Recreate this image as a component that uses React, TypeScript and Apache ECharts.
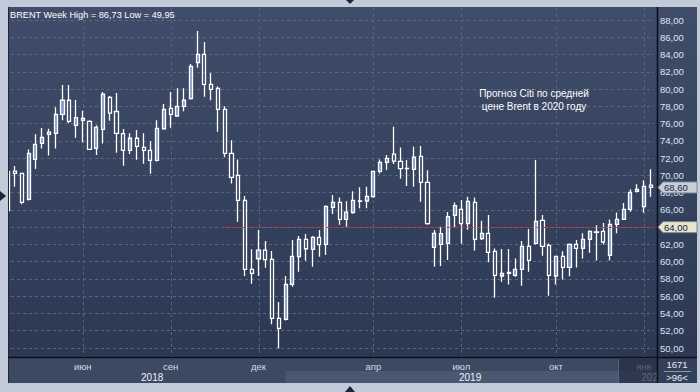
import React, { useEffect, useRef } from "react";
import * as echarts from "echarts";

// Weekly Brent candles (week start, Monday)
const startDate = "2018-03-19";
const weekCount = 96;

const opens = [
  70.43, 70.5, 70.24, 67.22, 71.85, 73.7, 74.75, 74.87, 77.07, 78.7,
  75.8, 76.37, 76.26, 73.13, 75.33, 79.04, 77.4, 74.83, 72.9, 74.3,
  73.25, 72.9, 71.74, 75.4, 77.76, 76.88, 78.0, 78.88, 83.06, 84.02,
  80.55, 80.08, 77.65, 72.55, 70.0, 67.1, 59.1, 60.34, 61.35, 60.27,
  53.43, 53.32, 57.37, 60.58, 62.58, 61.43, 62.82, 62.0, 66.3, 66.87,
  64.9, 65.7, 67.05, 67.03, 67.53, 70.46, 71.5, 72.47, 71.62, 70.8,
  70.7, 72.2, 69.19, 61.66, 62.0, 62.12, 65.37, 66.06, 64.4, 66.87,
  62.66, 63.28, 61.2, 58.34, 58.76, 58.41, 59.11, 61.77, 62.12, 64.79,
  61.89, 58.34, 60.62, 59.34, 62.0, 61.54, 62.58, 63.45, 63.51, 60.73,
  64.32, 64.9, 66.06, 68.15, 66.37, 68.88,
];
const closes = [
  65.91, 70.24, 66.88, 72.55, 73.6, 74.4, 75.0, 77.07, 78.7, 76.26,
  76.7, 76.6, 73.0, 75.56, 79.4, 77.2, 74.87, 72.9, 74.3, 73.36,
  72.9, 71.74, 75.45, 77.65, 77.07, 78.0, 78.7, 82.63, 84.02, 80.55,
  79.97, 77.65, 72.55, 69.77, 67.1, 59.1, 58.64, 61.35, 60.23, 53.43,
  52.27, 57.37, 60.61, 62.58, 61.5, 62.82, 61.97, 66.4, 66.87, 64.9,
  65.75, 67.1, 67.0, 67.57, 70.46, 71.5, 71.97, 71.66, 70.77, 70.77,
  72.12, 69.19, 64.4, 63.28, 63.24, 65.21, 66.49, 64.4, 66.99, 62.58,
  63.28, 61.08, 58.41, 58.64, 58.64, 59.11, 61.77, 60.15, 64.67, 61.77,
  58.41, 60.62, 59.34, 62.0, 61.54, 62.58, 63.51, 63.4, 62.28, 64.32,
  64.9, 66.06, 68.03, 68.38, 68.73, 68.6,
];
const lows = [
  65.7, 68.69, 66.64, 67.1, 70.75, 73.1, 72.3, 73.1, 76.4, 76.03,
  74.37, 73.8, 73.0, 72.36, 73.7, 76.33, 72.63, 71.12, 72.47, 71.8,
  71.35, 70.2, 71.6, 75.3, 75.52, 76.8, 77.42, 78.8, 82.48, 79.12,
  78.7, 75.06, 72.09, 69.07, 64.63, 58.34, 57.45, 58.34, 59.3, 52.74,
  49.95, 53.2, 57.1, 58.84, 60.1, 59.42, 60.58, 60.77, 65.52, 64.28,
  64.05, 65.56, 66.18, 66.18, 67.4, 70.23, 70.62, 71.31, 69.62, 68.77,
  68.69, 66.95, 64.28, 59.42, 59.5, 60.19, 64.01, 62.08, 63.7, 61.31,
  62.51, 59.92, 55.83, 57.68, 57.37, 58.26, 57.22, 58.84, 62.0, 60.69,
  56.06, 57.37, 57.95, 58.3, 59.34, 60.38, 61.04, 60.15, 62.0, 60.15,
  63.28, 64.85, 65.79, 68.03, 65.67, 67.53,
];
const highs = [
  70.6, 71.09, 70.3, 73.0, 74.75, 75.5, 75.4, 77.88, 80.47, 80.47,
  78.73, 77.5, 76.4, 75.8, 79.66, 79.2, 79.54, 75.37, 74.87, 75.25,
  74.87, 73.94, 76.4, 78.27, 79.66, 80.08, 80.08, 82.9, 86.73, 85.45,
  81.86, 80.3, 78.0, 74.06, 71.85, 67.6, 61.43, 63.67, 62.39, 61.23,
  55.32, 58.34, 62.5, 62.97, 63.2, 62.97, 63.67, 66.5, 67.72, 67.45,
  67.0, 68.15, 68.61, 68.69, 70.5, 71.85, 72.36, 75.64, 73.24, 71.78,
  73.32, 73.4, 70.58, 63.67, 64.05, 65.75, 66.87, 67.14, 67.53, 67.45,
  64.75, 65.4, 61.54, 61.46, 61.46, 60.38, 62.39, 63.78, 71.78, 65.4,
  62.12, 60.7, 61.2, 62.12, 62.51, 63.28, 63.63, 64.21, 64.48, 64.9,
  65.71, 66.79, 68.38, 68.96, 69.42, 70.7,
];

const monthNames = ["янв", "фев", "мар", "апр", "май", "июн", "июл", "авг", "сен", "окт", "ноя", "дек"];
const shownMonths = ["2018-06", "2018-09", "2018-12", "2019-04", "2019-07", "2019-10", "2020-01"];
const yearLabels = ["2018", "2019", "2020"];

const titleText = "BRENT Week High = 86,73 Low = 49,95";
const noteLines = ["Прогноз Citi по средней", "цене Brent в 2020 году"];
const lastPrice = 68.6;
const levelPrice = 64;
const levelStartIndex = 32;
const barsCount = "1671";
const visibleBars = ">96<";

const dates: string[] = [];
{
  const d0 = new Date(startDate + "T00:00:00Z");
  for (let i = 0; i < weekCount; i++) {
    const d = new Date(d0.getTime() + i * 7 * 86400000);
    dates.push(d.toISOString().slice(0, 10));
  }
}

const fmt = (v: number) => v.toFixed(2).replace(".", ",");
const FONT = "Liberation Sans";

export default function App() {
  const ref = useRef<HTMLDivElement>(null);
  useEffect(() => {
    const chart = echarts.init(ref.current!, undefined, { renderer: "svg", width: 700, height: 392 });
    const ohlc = dates.map((_, i) => [opens[i], closes[i], lows[i], highs[i]]);
    chart.setOption({
      animation: false,
      backgroundColor: "#c0cad8",
      grid: { left: 5, right: 46, top: 20, bottom: 44 },
      xAxis: {
        type: "category",
        data: dates,
        boundaryGap: true,
        axisLine: { show: false },
        axisTick: { show: false },
        axisLabel: { show: false },
        splitLine: { show: false },
      },
      yAxis: {
        type: "value",
        position: "right",
        min: 50,
        max: 88,
        interval: 2,
        axisLine: { show: false },
        axisTick: { show: false },
        axisLabel: {
          margin: 6,
          color: "#dde5f0",
          fontSize: 9.5,
          fontFamily: FONT,
          // the level tag already shows this value at the same place
          formatter: (v: number) => (v === levelPrice ? "" : fmt(v)),
        },
        splitLine: { lineStyle: { color: "#5a6782", type: [3, 3], width: 1 } },
      },
      series: [
        {
          type: "candlestick",
          data: ohlc,
          barWidth: 3.6,
          itemStyle: {
            color: "#7f9bc7",
            color0: "rgba(0,0,0,0)",
            borderColor: "#ffffff",
            borderColor0: "#ffffff",
            borderColorDoji: "#ffffff",
            borderWidth: 1.3,
          },
        },
      ],
    });

    const px = (i: number) => chart.convertToPixel({ xAxisIndex: 0 }, dates[i]) as number;
    const py = (v: number) => chart.convertToPixel({ yAxisIndex: 0 }, v) as number;

    const monthIdx: number[] = [];
    dates.forEach((d, i) => {
      const ym = d.slice(0, 7);
      if (shownMonths.includes(ym) && (i === 0 || dates[i - 1].slice(0, 7) !== ym)) monthIdx.push(i);
    });
    const firstOfYear = (y: string) => dates.findIndex((d) => d.slice(0, 4) === y && d.slice(5, 7) === "01");

    const g: any[] = [];
    const BOT = -1;
    const TOP = 100;
    // panel
    g.push({
      type: "rect", z: BOT - 2, shape: { x: 8, y: 7, width: 689, height: 376 },
      style: { fill: new echarts.graphic.LinearGradient(0, 0, 0, 1, [
        { offset: 0, color: "#3f4d6a" }, { offset: 1, color: "#2b3751" }]) },
    });
    // x axis area
    g.push({ type: "rect", z: BOT - 1, shape: { x: 8, y: 357, width: 649, height: 26 }, style: { fill: "#3c4963" } });
    // 2019 band (lower row)
    const y19 = firstOfYear("2019");
    const y20 = firstOfYear("2020");
    const band19x = px(y19 - 1);
    g.push({ type: "rect", z: BOT - 1, shape: { x: band19x, y: 371, width: 657 - band19x, height: 12 }, style: { fill: "#4a5771" } });
    // vertical month grid lines
    monthIdx.forEach((i) => {
      g.push({ type: "line", z: BOT, shape: { x1: Math.round(px(i)) + 0.5, y1: 8, x2: Math.round(px(i)) + 0.5, y2: 357 },
        style: { stroke: "#56637d", lineWidth: 1, lineDash: [3, 3] } });
    });
    // month labels
    monthIdx.forEach((i) => {
      const m = parseInt(dates[i].slice(5, 7), 10) - 1;
      g.push({ type: "text", z: TOP - 5, x: px(i), y: 366,
        style: { text: monthNames[m], fill: "#d3dbe7", font: `9.5px "${FONT}"`, align: "center", verticalAlign: "middle" } });
    });
    // year labels
    const yearRanges = [
      [8, px(y19)],
      [px(y19), px(y20)],
      [px(y20), 657],
    ];
    yearLabels.forEach((t, k) => {
      g.push({ type: "text", z: TOP - 5, x: (yearRanges[k][0] + yearRanges[k][1]) / 2 + 2, y: 377,
        style: { text: t, fill: "#eef2f8", font: `10px "${FONT}"`, align: "center", verticalAlign: "middle" } });
    });
    // dark right overlay in axis area
    g.push({ type: "rect", z: TOP - 4, shape: { x: 618, y: 359, width: 39, height: 24 }, style: { fill: "rgba(36,46,68,0.72)" } });
    g.push({ type: "line", z: TOP - 4, shape: { x1: 618.5, y1: 359, x2: 618.5, y2: 383 }, style: { stroke: "#55627c", lineWidth: 1 } });
    // red level line
    const ly = Math.round(py(levelPrice)) + 0.5;
    g.push({ type: "line", z: TOP - 10, shape: { x1: px(levelStartIndex), y1: ly, x2: 657, y2: ly },
      style: { stroke: "#e0242a", lineWidth: 1, lineDash: [3, 3] } });
    // black separators
    g.push({ type: "line", z: TOP, shape: { x1: 8, y1: 357.5, x2: 697, y2: 357.5 }, style: { stroke: "#0b0e16", lineWidth: 1.5 } });
    g.push({ type: "line", z: TOP, shape: { x1: 657.5, y1: 7, x2: 657.5, y2: 383 }, style: { stroke: "#0b0e16", lineWidth: 1.5 } });
    // right bottom box
    g.push({ type: "rect", z: TOP - 1, shape: { x: 658, y: 358, width: 39, height: 25 }, style: { fill: "#33405a" } });
    g.push({ type: "text", z: TOP, x: 677, y: 364, style: { text: barsCount, fill: "#e6ebf3", font: `9.5px "${FONT}"`, align: "center", verticalAlign: "middle" } });
    g.push({ type: "line", z: TOP, shape: { x1: 664, y1: 371.5, x2: 691, y2: 371.5 }, style: { stroke: "#8a96ab", lineWidth: 1 } });
    g.push({ type: "text", z: TOP, x: 677, y: 377.5, style: { text: visibleBars, fill: "#e6ebf3", font: `9.5px "${FONT}"`, align: "center", verticalAlign: "middle" } });
    // price tags
    const tag = (v: number, fill: string) => {
      const cy = py(v);
      g.push({ type: "polygon", z: TOP, shape: { points: [[658, cy], [663, cy - 5.5], [697, cy - 5.5], [697, cy + 5.5], [663, cy + 5.5]] },
        style: { fill, stroke: "#7d8799", lineWidth: 1 } });
      g.push({ type: "text", z: TOP + 1, x: 664, y: cy + 0.5, style: { text: fmt(v), fill: "#17233b", font: `9.5px "${FONT}"`, align: "left", verticalAlign: "middle" } });
    };
    tag(lastPrice, "#c9ced7");
    tag(levelPrice, "#e6e6cc");
    // title and note
    g.push({ type: "text", z: TOP, x: 10, y: 15, style: { text: titleText, fill: "#ffffff", font: `9.2px "${FONT}"`, align: "left", verticalAlign: "middle" } });
    noteLines.forEach((t, k) => {
      g.push({ type: "text", z: TOP, x: 534, y: 93 + k * 13, style: { text: t, fill: "#ffffff", font: `10px "${FONT}"`, align: "center", verticalAlign: "middle" } });
    });
    // frame strips
    g.push({ type: "rect", z: TOP - 2, shape: { x: 0, y: 0, width: 8, height: 392 }, style: { fill: "#c0cad8" } });
    g.push({ type: "line", z: TOP - 2, shape: { x1: 8.5, y1: 7, x2: 8.5, y2: 383 }, style: { stroke: "#1e2638", lineWidth: 1 } });
    // small triangles
    g.push({ type: "polygon", z: TOP, shape: { points: [[0, 191], [6, 196], [0, 201]] }, style: { fill: "#1c2538" } });
    g.push({ type: "polygon", z: TOP, shape: { points: [[346, 0], [354, 0], [350, 4]] }, style: { fill: "#1c2538" } });
    g.push({ type: "polygon", z: TOP, shape: { points: [[345, 392], [355, 392], [350, 386]] }, style: { fill: "#1c2538" } });

    chart.setOption({ graphic: g });
    return () => chart.dispose();
  }, []);
  return <div ref={ref} style={{ position: "fixed", left: 0, top: 0, width: 700, height: 392 }} />;
}
